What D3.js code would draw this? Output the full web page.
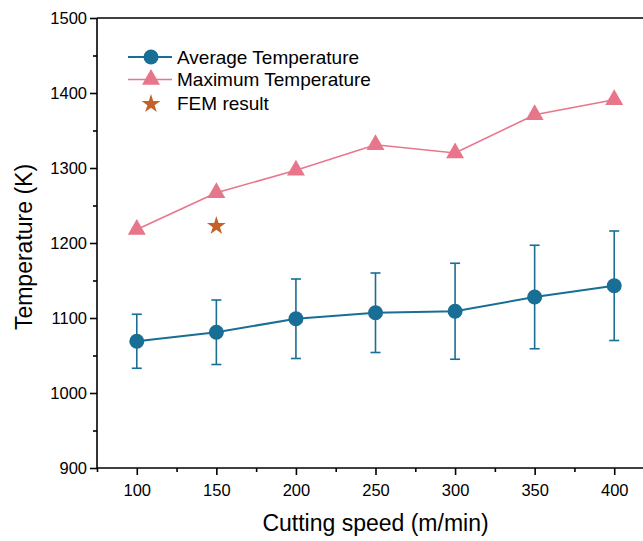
<!DOCTYPE html>
<html>
<head>
<meta charset="utf-8">
<script src="https://cdn.jsdelivr.net/npm/d3@7"></script>
<style>
  html, body { margin: 0; padding: 0; background: #fff; }
  svg { display: block; }
  text { font-family: "Liberation Sans", Arial, sans-serif; fill: #000; }
</style>
</head>
<body>
<svg id="chart" width="643" height="541"></svg>
<script>
// ---- data ----
const speeds = [100, 150, 200, 250, 300, 350, 400];
const avgTemp = [1069, 1081, 1099, 1107, 1109, 1128, 1143];
const avgErr = [36, 43, 53, 53, 64, 69, 73];
const maxTemp = [1218, 1267, 1297, 1331, 1320, 1371, 1391];
const femSpeed = [150];
const femTemp = [1224];
const xTicks = [100, 150, 200, 250, 300, 350, 400];
const xMinorTicks = [75, 125, 175, 225, 275, 325, 375];
const yTicks = [900, 1000, 1100, 1200, 1300, 1400, 1500];
const yMinorTicks = [950, 1050, 1150, 1250, 1350, 1450];
const legendLabels = ["Average Temperature", "Maximum Temperature", "FEM result"];

(function () {
// ---- style ----
const blue = "#196e95";
const pink = "#e8768a";
const starCol = "#c2612a";

const svg = d3.select("#chart");
const mLeft = 97, mRight = 654, mTop = 18, mBottom = 468;

const x = d3.scaleLinear().domain([75, 425]).range([mLeft, mRight]);
const y = d3.scaleLinear().domain([900, 1500]).range([mBottom, mTop]);

// axes
const xAxis = svg.append("g").attr("transform", `translate(0,${mBottom})`)
  .call(d3.axisBottom(x).tickValues(xTicks).tickSize(7).tickPadding(9).tickFormat(d3.format("d")));
const xMinor = svg.append("g").attr("transform", `translate(0,${mBottom})`)
  .call(d3.axisBottom(x).tickValues(xMinorTicks).tickSize(4).tickFormat(""));
const yAxis = svg.append("g").attr("transform", `translate(${mLeft},0)`)
  .call(d3.axisLeft(y).tickValues(yTicks).tickSize(7).tickPadding(3).tickFormat(d3.format("d")));
const yMinor = svg.append("g").attr("transform", `translate(${mLeft},0)`)
  .call(d3.axisLeft(y).tickValues(yMinorTicks).tickSize(4).tickFormat(""));

[xAxis, xMinor, yAxis, yMinor].forEach(g => {
  g.selectAll(".domain").attr("stroke", "#000").attr("stroke-width", 1.6);
  g.selectAll(".tick line").attr("stroke", "#000").attr("stroke-width", 1.6);
  g.selectAll(".tick text").attr("font-size", 16.5).attr("font-family", "Liberation Sans, Arial, sans-serif").attr("fill", "#111");
});
xMinor.select(".domain").remove();
yMinor.select(".domain").remove();
xAxis.select(".domain").attr("d", `M${mLeft},0H${mRight}`);
yAxis.select(".domain").attr("d", `M0,${mBottom}V${mTop}`);

// top frame line
svg.append("line")
  .attr("x1", mLeft).attr("x2", mRight)
  .attr("y1", mTop).attr("y2", mTop)
  .attr("stroke", "#000").attr("stroke-width", 1.6);

// axis titles
svg.append("text")
  .attr("x", (mLeft + mRight) / 2).attr("y", 531)
  .attr("text-anchor", "middle").attr("font-size", 23)
  .text("Cutting speed (m/min)");
svg.append("text")
  .attr("transform", `translate(32,247) rotate(-90)`)
  .attr("text-anchor", "middle").attr("font-size", 23)
  .text("Temperature (K)");

// max temperature line
const maxData = speeds.map((s, i) => ({ s, v: maxTemp[i] }));
svg.append("path")
  .datum(maxData)
  .attr("fill", "none").attr("stroke", pink).attr("stroke-width", 1.6)
  .attr("d", d3.line().x(d => x(d.s)).y(d => y(d.v)));
svg.selectAll(".tri").data(maxData).enter().append("path")
  .attr("class", "tri")
  .attr("transform", d => `translate(${x(d.s)},${y(d.v)})`)
  .attr("d", d3.symbol().type(d3.symbolTriangle).size(140))
  .attr("fill", pink);

// average temperature with error bars
const avgData = speeds.map((s, i) => ({ s, v: avgTemp[i], e: avgErr[i] }));
const eb = svg.append("g").attr("stroke", blue).attr("stroke-width", 1.6).attr("fill", "none");
avgData.forEach(d => {
  const cx = x(d.s);
  eb.append("line").attr("x1", cx).attr("x2", cx).attr("y1", y(d.v + d.e)).attr("y2", y(d.v - d.e));
  eb.append("line").attr("x1", cx - 5).attr("x2", cx + 5).attr("y1", y(d.v + d.e)).attr("y2", y(d.v + d.e));
  eb.append("line").attr("x1", cx - 5).attr("x2", cx + 5).attr("y1", y(d.v - d.e)).attr("y2", y(d.v - d.e));
});
svg.append("path")
  .datum(avgData)
  .attr("fill", "none").attr("stroke", blue).attr("stroke-width", 2)
  .attr("d", d3.line().x(d => x(d.s)).y(d => y(d.v)));
svg.selectAll(".dot").data(avgData).enter().append("circle")
  .attr("class", "dot")
  .attr("cx", d => x(d.s)).attr("cy", d => y(d.v)).attr("r", 7.5)
  .attr("fill", blue);

// FEM star
svg.selectAll(".star").data(femSpeed.map((s, i) => ({ s, v: femTemp[i] }))).enter().append("path")
  .attr("class", "star")
  .attr("transform", d => `translate(${x(d.s)},${y(d.v) + 1})`)
  .attr("d", d3.symbol().type(d3.symbolStar).size(110))
  .attr("fill", starCol);

// legend
const lg = svg.append("g");
const rowY = [57, 79.5, 103];
const lx0 = 128, lx1 = 172, mx = 151, tx = 177;
lg.append("line").attr("x1", lx0).attr("x2", lx1).attr("y1", rowY[0]).attr("y2", rowY[0]).attr("stroke", blue).attr("stroke-width", 2);
lg.append("circle").attr("cx", mx).attr("cy", rowY[0]).attr("r", 7.5).attr("fill", blue);
lg.append("line").attr("x1", lx0).attr("x2", lx1).attr("y1", rowY[1]).attr("y2", rowY[1]).attr("stroke", pink).attr("stroke-width", 1.6);
lg.append("path").attr("transform", `translate(${mx},${rowY[1]})`).attr("d", d3.symbol().type(d3.symbolTriangle).size(140)).attr("fill", pink);
lg.append("path").attr("transform", `translate(${mx},${rowY[2] + 1})`).attr("d", d3.symbol().type(d3.symbolStar).size(110)).attr("fill", starCol);
legendLabels.forEach((t, i) => {
  lg.append("text").attr("x", tx).attr("y", rowY[i]).attr("dy", "0.35em")
    .attr("font-size", 19).text(t);
});
})();
</script>
</body>
</html>
